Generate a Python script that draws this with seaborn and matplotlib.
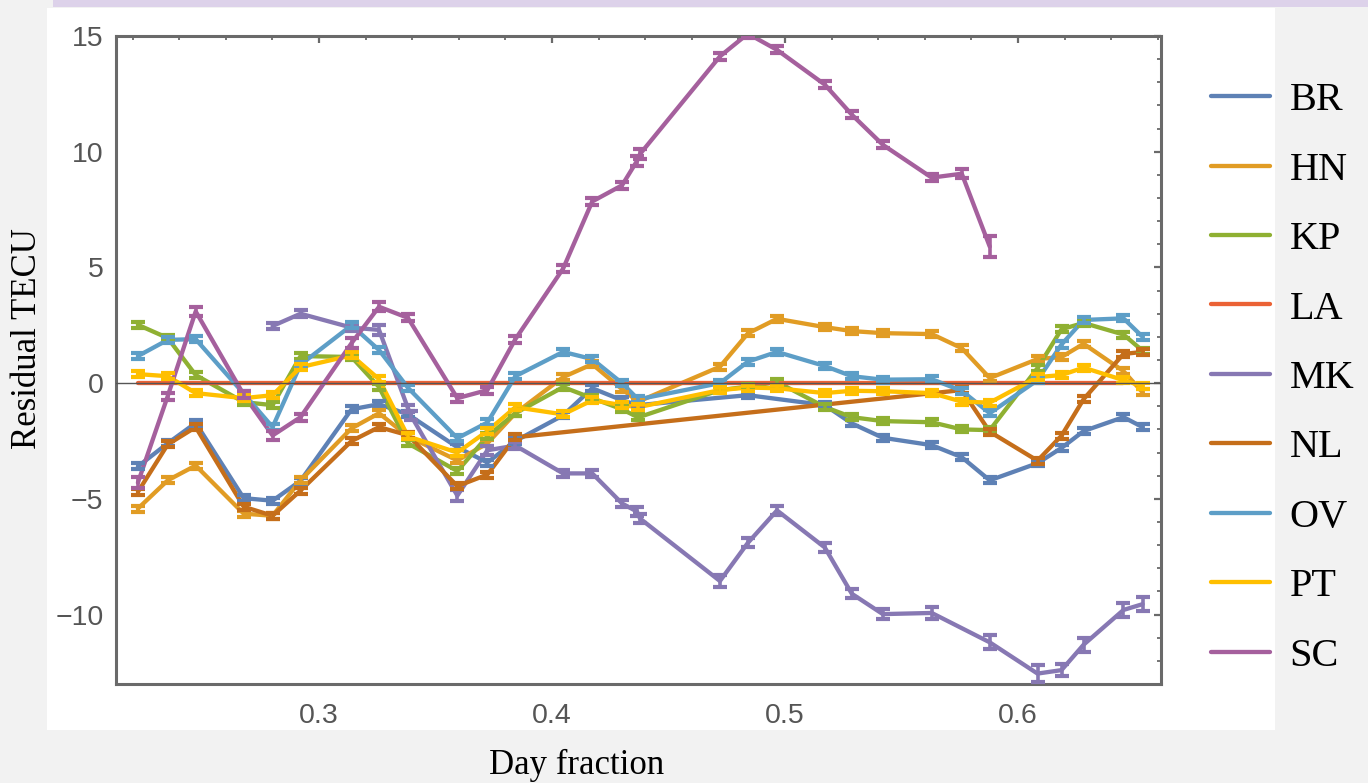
import numpy as np
import pandas as pd
import matplotlib
matplotlib.use("Agg")
import matplotlib.pyplot as plt
from matplotlib.patches import Rectangle
from matplotlib.lines import Line2D
from matplotlib.ticker import MultipleLocator, FuncFormatter
import seaborn as sns

# ---- stations and colours -------------------------------------------------
stations = ["BR", "HN", "KP", "LA", "MK", "NL", "OV", "PT", "SC"]
colors = ["#5E81B5", "#E19C24", "#8FB032", "#EB6235", "#8778B3",
          "#C56E1A", "#5D9EC7", "#FFBF00", "#A5609D"]

# ---- residual TEC per station (day fraction, TECU) ------------------------
br_t = [0.2223, 0.2351, 0.2471, 0.2677, 0.2801, 0.2921, 0.3140, 0.3258, 0.3382,
        0.3594, 0.3723, 0.3843, 0.4048, 0.4173, 0.4301, 0.4370, 0.4841, 0.5171,
        0.5287, 0.5420, 0.5630, 0.5759, 0.5879, 0.6084, 0.6187, 0.6282, 0.6453, 0.6535]
br_v = [-3.6, -2.6, -1.72, -4.97, -5.08, -4.22, -1.13, -0.91, -1.35,
        -2.77, -3.43, -2.5, -1.39, -0.22, -0.74, -0.95, -0.52, -0.95,
        -1.74, -2.36, -2.68, -3.2, -4.2, -3.46, -2.8, -2.07, -1.47, -1.9]

hn_t = [0.2223, 0.2351, 0.2471, 0.2677, 0.2801, 0.2921, 0.3140, 0.3258, 0.3382,
        0.3594, 0.3723, 0.3843, 0.4048, 0.4173, 0.4301, 0.4370, 0.4721, 0.4841,
        0.4966, 0.5171, 0.5287, 0.5420, 0.5630, 0.5759, 0.5879, 0.6084, 0.6187,
        0.6282, 0.6453, 0.6535]
hn_v = [-5.42, -4.2, -3.56, -5.64, -5.73, -4.2, -1.95, -1.3, -2.3,
        -3.34, -2.6, -1.3, 0.26, 0.82, -0.26, -0.8, 0.71, 2.15,
        2.78, 2.42, 2.25, 2.16, 2.12, 1.51, 0.22, 1.04, 1.13,
        1.7, 0.52, -0.4]

kp_t = [0.2223, 0.2351, 0.2471, 0.2677, 0.2801, 0.2921, 0.3140, 0.3258, 0.3382,
        0.3594, 0.3723, 0.3843, 0.4048, 0.4173, 0.4301, 0.4370, 0.4721, 0.4841,
        0.4966, 0.5171, 0.5287, 0.5420, 0.5630, 0.5759, 0.5879, 0.6084, 0.6187,
        0.6282, 0.6453, 0.6535]
kp_v = [2.52, 1.95, 0.35, -0.82, -0.95, 1.17, 1.13, -0.17, -2.6,
        -3.8, -2.3, -1.3, -0.17, -0.65, -1.13, -1.48, -0.3, -0.15,
        0.05, -1.03, -1.47, -1.64, -1.69, -2.0, -2.03, 0.65, 2.33,
        2.6, 2.1, 1.4]

la_t = [0.2223, 0.2351, 0.2471, 0.2677, 0.2801, 0.2921, 0.3140, 0.3258, 0.3382,
        0.3594, 0.3723, 0.3843, 0.4048, 0.4173, 0.4301, 0.4370, 0.4721, 0.4841,
        0.4966, 0.5171, 0.5287, 0.5420, 0.5630, 0.5759, 0.5879, 0.6084, 0.6187,
        0.6282, 0.6453]
la_v = [0.0] * 29

mk_t = [0.2801, 0.2921, 0.3140, 0.3258, 0.3382, 0.3395, 0.3594, 0.3723, 0.3843,
        0.4048, 0.4173, 0.4301, 0.4365, 0.4378, 0.4721, 0.4841, 0.4966, 0.5171,
        0.5287, 0.5420, 0.5630, 0.5879, 0.6084, 0.6187, 0.6282, 0.6453, 0.6535]
mk_v = [2.47, 3.0, 2.4, 2.3, -1.08, -1.4, -4.86, -2.9, -2.7,
        -3.9, -3.9, -5.2, -5.55, -5.85, -8.55, -6.9, -5.5, -7.1,
        -9.1, -9.98, -9.93, -11.2, -12.55, -12.4, -11.3, -9.8, -9.55]
mk_e = [0.15, 0.15, 0.15, 0.2, 0.15, 0.2, 0.25, 0.2, 0.15,
        0.15, 0.15, 0.15, 0.2, 0.2, 0.25, 0.2, 0.2, 0.2,
        0.2, 0.2, 0.25, 0.3, 0.35, 0.25, 0.3, 0.3, 0.3]

nl_t = [0.2223, 0.2351, 0.2471, 0.2677, 0.2801, 0.2921, 0.3140, 0.3258, 0.3382,
        0.3594, 0.3723, 0.3843, 0.5759, 0.5879, 0.6084, 0.6187, 0.6282, 0.6453,
        0.6535]
nl_v = [-4.7, -2.65, -1.9, -5.34, -5.73, -4.64, -2.5, -1.9, -2.25,
        -4.45, -3.95, -2.34, -0.3, -2.1, -3.35, -2.27, -0.69, 1.26,
        1.35]

ov_t = [0.2223, 0.2351, 0.2471, 0.2677, 0.2801, 0.2921, 0.3140, 0.3258, 0.3382,
        0.3594, 0.3723, 0.3843, 0.4048, 0.4173, 0.4301, 0.4370, 0.4721, 0.4841,
        0.4966, 0.5171, 0.5287, 0.5420, 0.5630, 0.5759, 0.5879, 0.6084, 0.6187,
        0.6282, 0.6453, 0.6535]
ov_v = [1.17, 1.87, 1.9, -0.45, -1.9, 0.8, 2.5, 1.43, -0.2,
        -2.38, -1.7, 0.3, 1.35, 1.04, 0.0, -0.7, 0.0, 0.93,
        1.35, 0.74, 0.3, 0.15, 0.17, -0.33, -1.3, 0.13, 1.67,
        2.73, 2.8, 2.0]

pt_t = [0.2223, 0.2351, 0.2471, 0.2677, 0.2801, 0.2921, 0.3140, 0.3258, 0.3382,
        0.3594, 0.3723, 0.3843, 0.4048, 0.4173, 0.4301, 0.4370, 0.4721, 0.4841,
        0.4966, 0.5171, 0.5287, 0.5420, 0.5630, 0.5759, 0.5879, 0.6084, 0.6187,
        0.6282, 0.6453, 0.6535]
pt_v = [0.39, 0.3, -0.43, -0.65, -0.52, 0.69, 1.2, 0.17, -2.3,
        -3.0, -2.07, -1.04, -1.35, -0.74, -0.95, -1.04, -0.3, -0.19,
        -0.22, -0.43, -0.33, -0.35, -0.43, -0.8, -0.84, 0.26, 0.35,
        0.67, 0.13, -0.13]

sc_t = [0.2223, 0.2351, 0.2471, 0.2677, 0.2801, 0.2921, 0.3140, 0.3258, 0.3382,
        0.3594, 0.3723, 0.3843, 0.4048, 0.4173, 0.4301, 0.4365, 0.4378, 0.4721,
        0.4841, 0.4966, 0.5171, 0.5287, 0.5420, 0.5630, 0.5759, 0.5879]
sc_v = [-4.3, -0.56, 3.1, -0.5, -2.26, -1.47, 1.73, 3.3, 2.82,
        -0.65, -0.3, 1.9, 4.95, 7.85, 8.55, 9.6, 9.9, 14.12,
        15.1, 14.4, 12.9, 11.6, 10.3, 8.88, 9.05, 5.9]
sc_e = [0.25, 0.15, 0.2, 0.15, 0.2, 0.15, 0.2, 0.2, 0.15,
        0.15, 0.15, 0.15, 0.15, 0.15, 0.15, 0.2, 0.2, 0.15,
        0.2, 0.15, 0.15, 0.15, 0.15, 0.15, 0.2, 0.45]

# typical uncertainty for the stations without individual values
base_err = 0.13

series_t = [br_t, hn_t, kp_t, la_t, mk_t, nl_t, ov_t, pt_t, sc_t]
series_v = [br_v, hn_v, kp_v, la_v, mk_v, nl_v, ov_v, pt_v, sc_v]
series_e = [base_err, base_err, base_err, 0.0, mk_e, base_err, base_err, base_err, sc_e]

frames = []
for name, t, v in zip(stations, series_t, series_v):
    frames.append(pd.DataFrame({"t": t, "v": v, "station": name}))
df = pd.concat(frames, ignore_index=True)

# ---- figure -----------------------------------------------------------------
sns.set_theme(style="white")
plt.rcParams["font.family"] = ["Liberation Sans", "DejaVu Sans"]

W, H = 1368, 783
fig = plt.figure(figsize=(W / 100, H / 100), dpi=100)
fig.patch.set_facecolor("#f2f2f2")

def fx(px):
    return px / W

def fy(py):
    return 1 - py / H

# page background: white slide panel and lilac strip along the top
bg = fig.add_axes([0, 0, 1, 1], zorder=-5)
bg.set_xlim(0, W)
bg.set_ylim(H, 0)
bg.axis("off")
bg.add_patch(Rectangle((47, 8), 1275 - 47, 730 - 8, facecolor="white", edgecolor="none"))
bg.add_patch(Rectangle((53, 0), W - 53, 7, facecolor="#ddd2ea", edgecolor="none"))

ax = fig.add_axes([fx(116), fy(684), fx(1161) - fx(116), fy(36) - fy(684)], zorder=1)
ax.set_facecolor("white")

palette = dict(zip(stations, colors))
lw = 3.1
sns.lineplot(data=df, x="t", y="v", hue="station", hue_order=stations,
             palette=palette, estimator=None, sort=True, linewidth=lw,
             legend=False, ax=ax)

for name, t, v, e in zip(stations, series_t, series_v, series_e):
    if name == "LA":
        continue
    ax.errorbar(t, v, yerr=e, fmt="none", ecolor=palette[name],
                elinewidth=2.6, capsize=5, capthick=3.0, zorder=3)

ax.axhline(0, color="#555555", lw=1.0, zorder=5)

ax.set_xlim(0.2129, 0.6614)
ax.set_ylim(-13.0, 15.0)
ax.xaxis.set_major_locator(MultipleLocator(0.1))
ax.xaxis.set_minor_locator(MultipleLocator(0.02))
ax.yaxis.set_major_locator(MultipleLocator(5))
ax.yaxis.set_minor_locator(MultipleLocator(1))
ax.xaxis.set_major_formatter(FuncFormatter(lambda x, p: f"{x:.1f}"))
ax.yaxis.set_major_formatter(FuncFormatter(lambda y, p: f"{y:.0f}".replace("-", "\u2212")))

for s in ax.spines.values():
    s.set_color("#6a6a6a")
    s.set_linewidth(2.2)
ax.tick_params(which="both", direction="in", top=True, right=True,
               color="#6a6a6a", labelcolor="#555555", labelsize=20.5)
ax.tick_params(which="major", length=5, width=1.6)
ax.tick_params(which="minor", length=3, width=1.3)
ax.tick_params(axis="x", which="major", pad=14)
ax.tick_params(axis="y", which="major", pad=9)
ax.set_xlabel("")
ax.set_ylabel("")

serif = ["Liberation Serif", "DejaVu Serif"]
fig.text(fx(28), fy(339), "Residual TECU", rotation=90, ha="center", va="center",
         fontsize=25, family=serif, color="black")
fig.text(fx(577), fy(765), "Day fraction", ha="center", va="center",
         fontsize=25, family=serif, color="black")

handles = [Line2D([0], [0], color=c, lw=lw) for c in colors]
leg = fig.legend(handles, stations, loc="upper left",
                 bbox_to_anchor=(fx(1195), fy(66)), frameon=False,
                 prop={"family": serif, "size": 29}, handlelength=1.45,
                 handletextpad=0.5, labelspacing=0.8, borderaxespad=0)
for txt in leg.get_texts():
    txt.set_color("black")

fig.savefig("out.png", dpi=100, facecolor=fig.get_facecolor())
